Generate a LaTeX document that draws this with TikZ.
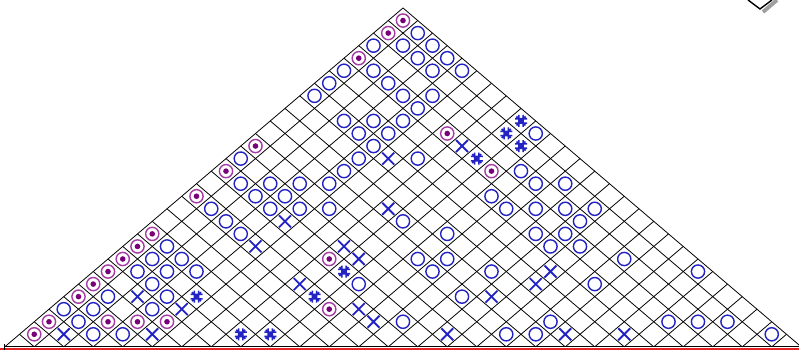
\documentclass[tikz,border=0pt]{standalone}
\usetikzlibrary{calc}
\definecolor{markblue}{RGB}{35,35,195}
\definecolor{ringpurple}{RGB}{165,60,165}
\definecolor{dotpurple}{RGB}{120,0,120}
\definecolor{basered}{RGB}{230,35,35}
\tikzset{
  gridline/.style={line width=0.45pt, black},
  redbase/.style={line width=1.2pt, basered},
  ring/.pic={\draw[markblue, line width=0.8pt] (0,0) circle (6.6);},
  dotring/.pic={\draw[ringpurple, line width=0.8pt] (0,0) circle (6.6);
                \fill[dotpurple] (0,0) circle (2.8);},
  xmark/.pic={\draw[markblue, line width=1.05pt] (-6,-6) -- (6,6) (-6,6) -- (6,-6);},
  hashmark/.pic={\draw[markblue, line width=0.9pt]
      (-2.2,-6) -- (-2.2,6) (2.2,-6) -- (2.2,6) (-6,-2.2) -- (6,-2.2) (-6,2.2) -- (6,2.2)
      (-4.5,-4.5) -- (4.5,4.5) (-4.5,4.5) -- (4.5,-4.5);},
}
\begin{document}
\begin{tikzpicture}[x=0.02cm, y=-0.02cm]
  \useasboundingbox (0,0) rectangle (799,350);
  \clip (0,0) rectangle (799,350);
  % lattice
  \foreach \k in {0,...,27} {
    \draw[gridline] ({403-14.75*\k},{8+12.55*\k}) -- ({403+14.75*(27-2*\k)},{8+12.55*27});
    \draw[gridline] ({403+14.75*\k},{8+12.55*\k}) -- ({403-14.75*(27-2*\k)},{8+12.55*27});
  }
  % base
  \draw[redbase] (0,349.1) -- (799,349.1);
  \draw[gridline] (4.75,346.9) -- (801,346.9);
  \draw[gridline] (4.3,344.5) -- (4.3,350);
  % purple rings
  \foreach \r/\p in {0/0,1/-1,3/-3,9/3,10/-10,12/-12,12/6,14/-14,17/-17,18/-18,19/-19,
      19/-5,20/-20,21/-21,22/-22,23/-5,24/-24,24/-20,24/-18,24/-16,25/-25}
    \pic at ({403+14.75*\p},{20.55+12.55*\r}) {dotring};
  % blue rings
  \foreach \r/\p in {1/1,2/-2,2/0,2/2,3/1,3/3,4/-4,4/-2,4/2,4/4,5/-5,5/-1,6/-6,6/0,6/2,7/1,
      8/-4,8/-2,8/0,9/-3,9/-1,9/9,10/-2,11/-11,11/-3,11/1,12/-4,12/8,13/-11,13/-9,13/-7,
      13/-5,13/9,13/11,14/-10,14/-8,14/6,15/-13,15/-9,15/-7,15/-5,15/7,15/9,15/11,15/13,
      16/-12,16/0,16/12,17/-11,17/3,17/9,17/11,18/-16,18/10,18/12,19/-17,19/-15,19/1,19/3,
      19/15,20/-18,20/-16,20/-14,20/2,20/6,20/20,21/-17,21/-3,21/13,22/-20,22/-16,22/4,
      23/-23,23/-21,23/-17,24/-22,24/0,24/10,24/18,24/20,24/22,25/-21,25/-19,25/7,25/9,25/25}
    \pic at ({403+14.75*\p},{20.55+12.55*\r}) {ring};
  % crosses
  \foreach \r/\p in {10/4,11/-1,15/-1,16/-8,18/-10,18/-4,19/-3,20/10,21/-7,21/9,22/-18,
      22/6,23/-15,23/-3,24/-2,25/-23,25/-17,25/3,25/11,25/15}
    \pic at ({403+14.75*\p},{20.55+12.55*\r}) {xmark};
  % hatched marks
  \foreach \r/\p in {8/8,9/7,10/8,11/5,20/-4,22/-14,22/-6,25/-11,25/-9}
    \pic at ({403+14.75*\p},{20.55+12.55*\r}) {hashmark};
  % corner of a shadowed tile, top right
  \draw[gray!75, line width=2.2pt] (763,12) -- (777,0);
  \draw[black, line width=0.8pt] (748,0) -- (760,9) -- (772,0);
\end{tikzpicture}
\end{document}
